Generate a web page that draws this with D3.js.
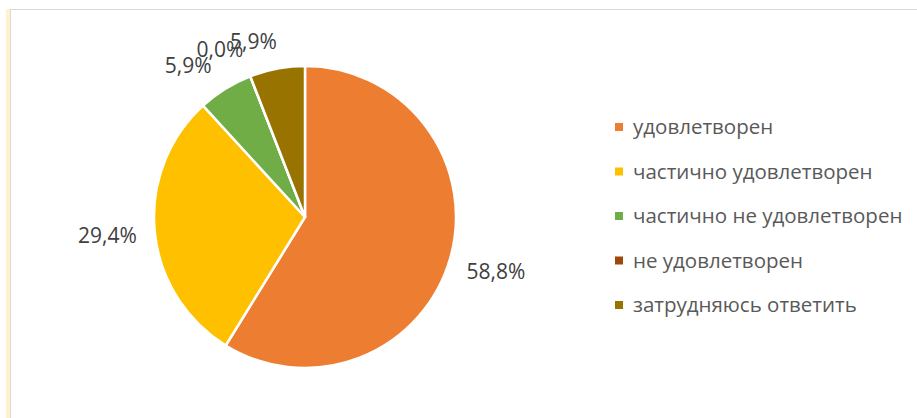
<!DOCTYPE html>
<html>
<head>
<meta charset="utf-8">
<script src="https://cdn.jsdelivr.net/npm/d3@7"></script>
<style>
  body { margin: 0; background: #fff; }
  svg { display: block; }
</style>
</head>
<body>
<div id="chart"></div>
<script>
// data
const categories = ["удовлетворен", "частично удовлетворен", "частично не удовлетворен", "не удовлетворен", "затрудняюсь ответить"];
const values = [58.8, 29.4, 5.9, 0.0, 5.9];
const colors = ["#ED7D31", "#FFC000", "#70AD47", "#9E480E", "#997300"];

const width = 917, height = 418;
const cx = 305, cy = 217, radius = 151;
const fontFamily = "'Open Sans', 'Liberation Sans', sans-serif";

const svg = d3.select("#chart").append("svg")
    .attr("width", width)
    .attr("height", height);

// frame of the chart area
svg.append("rect").attr("x", 6).attr("y", 9).attr("width", 4).attr("height", height - 9).attr("fill", "#fff2cc");
svg.append("line").attr("x1", 10.5).attr("x2", 10.5).attr("y1", 9).attr("y2", height).attr("stroke", "#d9d9d9");
svg.append("line").attr("x1", 10).attr("x2", width).attr("y1", 9.5).attr("y2", 9.5).attr("stroke", "#d9d9d9");

const pieData = categories.map((c, i) => ({ key: c, value: values[i], color: colors[i] }));
const pie = d3.pie().value(d => d.value).sort(null);
const arc = d3.arc().innerRadius(0).outerRadius(radius);

const g = svg.append("g").attr("transform", `translate(${cx},${cy})`);

const arcs = pie(pieData);

g.selectAll(".slice")
    .data(arcs)
    .enter()
    .append("path")
    .attr("class", "slice")
    .attr("d", arc)
    .attr("fill", d => d.data.color)
    .attr("stroke", "#fff")
    .attr("stroke-width", 2.5)
    .attr("stroke-linejoin", "round");

// outside-end labels; small slices crowd at the top so nudge them back a bit
g.selectAll(".label")
    .data(arcs)
    .enter()
    .append("text")
    .attr("class", "label")
    .attr("text-anchor", "middle")
    .attr("dy", "0.35em")
    .style("font-family", fontFamily)
    .style("font-size", "21px")
    .style("fill", "#404040")
    .attr("transform", d => {
        let a = (d.startAngle + d.endAngle) / 2;
        if (d.data.value < 10) a -= 0.1;
        const s = Math.sin(a), c = -Math.cos(a);
        const r = radius + 18 + 29 * Math.abs(s) + 6 * Math.abs(c);
        return `translate(${s * r},${c * r})`;
    })
    .text(d => d.data.value.toFixed(1).replace(".", ",") + "%");

// legend
const legendY = d3.scalePoint().domain(categories).range([127, 305]);

const legend = svg.selectAll(".legend")
    .data(pieData)
    .enter()
    .append("g")
    .attr("class", "legend")
    .attr("transform", d => `translate(615,${legendY(d.key)})`);

legend.append("rect")
    .attr("x", 0)
    .attr("y", -4)
    .attr("width", 8)
    .attr("height", 8)
    .attr("fill", d => d.color);

legend.append("text")
    .attr("x", 18)
    .attr("dy", "0.35em")
    .style("font-family", fontFamily)
    .style("font-size", "20.5px")
    .style("fill", "#595959")
    .text(d => d.key);
</script>
</body>
</html>
